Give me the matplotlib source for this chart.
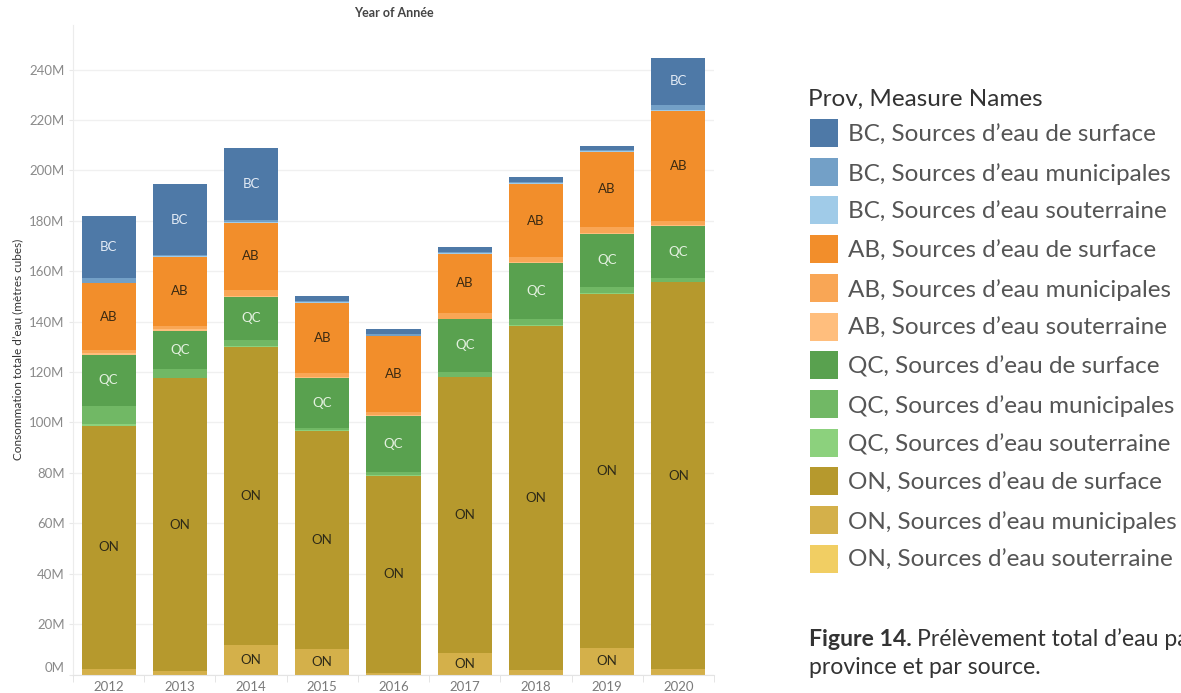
import matplotlib
matplotlib.use("Agg")
import matplotlib.pyplot as plt
import matplotlib.transforms as mtransforms
from matplotlib.patches import Rectangle
import numpy as np

# values, millions of m3
years = ["2012", "2013", "2014", "2015", "2016", "2017", "2018", "2019", "2020"]

bc_surface = [24.7, 28.1, 28.5, 1.9, 1.9, 1.8, 1.8, 1.6, 18.6]
bc_muni = [1.7, 0.4, 0.8, 0.5, 0.6, 0.5, 0.5, 0.4, 2.0]
bc_sout = [0.3, 0.2, 0.3, 0.3, 0.2, 0.2, 0.3, 0.2, 0.4]
ab_surface = [26.4, 27.5, 26.6, 28.0, 30.2, 23.4, 29.1, 30.1, 43.7]
ab_muni = [1.1, 1.1, 2.3, 1.3, 1.2, 2.4, 1.8, 2.2, 1.6]
ab_sout = [0.9, 0.8, 0.4, 0.4, 0.3, 0.3, 0.3, 0.3, 0.4]
qc_surface = [20.3, 15.2, 17.2, 20.1, 22.2, 20.7, 22.3, 21.1, 20.6]
qc_muni = [7.1, 3.4, 2.2, 0.7, 1.3, 2.1, 2.4, 2.4, 1.5]
qc_sout = [0.8, 0.3, 0.4, 0.3, 0.2, 0.2, 0.4, 0.3, 0.3]
on_surface = [96.4, 116.1, 118.4, 86.6, 78.2, 109.4, 136.5, 140.6, 153.4]
on_muni = [2.2, 1.4, 11.7, 10.1, 0.7, 8.5, 1.8, 10.5, 2.2]
on_sout = [0.0, 0.0, 0.0, 0.0, 0.0, 0.0, 0.0, 0.0, 0.0]

legend_labels = [
    "BC, Sources d\u2019eau de surface", "BC, Sources d\u2019eau municipales", "BC, Sources d\u2019eau souterraine",
    "AB, Sources d\u2019eau de surface", "AB, Sources d\u2019eau municipales", "AB, Sources d\u2019eau souterraine",
    "QC, Sources d\u2019eau de surface", "QC, Sources d\u2019eau municipales", "QC, Sources d\u2019eau souterraine",
    "ON, Sources d\u2019eau de surface", "ON, Sources d\u2019eau municipales", "ON, Sources d\u2019eau souterraine",
]
colors = ["#4e79a7", "#73a0c7", "#a0cbe8",
          "#f28e2b", "#f9a655", "#ffbe7d",
          "#59a14f", "#71b865", "#8cd17d",
          "#b6992d", "#d4b04a", "#f1ce63"]
series = [bc_surface, bc_muni, bc_sout, ab_surface, ab_muni, ab_sout,
          qc_surface, qc_muni, qc_sout, on_surface, on_muni, on_sout]
prov = ["BC"] * 3 + ["AB"] * 3 + ["QC"] * 3 + ["ON"] * 3
label_col = {"BC": "#e3ebf5", "AB": "#3b2a12", "QC": "#e4f1e0", "ON": "#2e2a18"}

plt.rcParams["font.family"] = ["Lato", "DejaVu Sans"]

fig = plt.figure(figsize=(11.81, 6.93), dpi=100)
ax = fig.add_axes([73 / 1181, 1 - 674.5 / 693, 641 / 1181, 649.5 / 693])

x = np.arange(len(years))
bottom = np.zeros(len(years))
# stack from the bottom: ON souterraine first, BC surface last
for i in reversed(range(len(series))):
    vals = np.array(series[i])
    ax.bar(x, vals, 0.76, bottom=bottom, color=colors[i], linewidth=0, zorder=2)
    for j in range(len(years)):
        if vals[j] >= 8:
            ax.text(x[j], bottom[j] + vals[j] / 2, prov[i], ha="center", va="center",
                    fontsize=9.5, color=label_col[prov[i]], zorder=3)
    bottom += vals

ax.set_xlim(-0.5, len(years) - 0.5)
ax.set_ylim(0, 257.7)
ax.set_yticks(np.arange(0, 241, 20))
ax.set_yticklabels(["%dM" % v for v in range(0, 241, 20)])
ax.set_xticks(x)
ax.set_xticklabels(years)
ax.set_xticks(np.arange(-0.5, len(years), 1), minor=True)
ax.tick_params(axis="y", length=3, color="#e8e8e8", labelcolor="#8a8a8a", labelsize=9.5, pad=3)
ax.tick_params(axis="x", which="major", length=0, labelcolor="#7a7a7a", labelsize=9.5, pad=4.5)
ax.tick_params(axis="x", which="minor", length=5, color="#e0e0e0")
ax.grid(axis="y", color="#f0f0f0", linewidth=1, zorder=0)
ax.set_axisbelow(True)
for s in ["top", "right"]:
    ax.spines[s].set_visible(False)
ax.spines["left"].set_color("#ececec")
ax.spines["bottom"].set_color("#e4e4e4")

# Tableau lifts the 0M label off the baseline
zero_lbl = ax.get_yticklabels()[0]
zero_lbl.set_transform(zero_lbl.get_transform() + mtransforms.ScaledTranslation(0, 8 / 100, fig.dpi_scale_trans))

ax.set_ylabel("Consommation totale d\u2019eau (mètres cubes)", fontsize=8.5, color="#333333", labelpad=4)
ax.set_title("Year of Année", fontsize=9, color="#444444", fontweight="bold", pad=6)

# legend drawn by hand to match the Tableau layout
fig.text(808 / 1181, 1 - 99 / 693, "Prov, Measure Names", fontsize=17.5, color="#333333", va="center")
for k in range(len(legend_labels)):
    yc = 133 + k * 38.7
    fig.add_artist(Rectangle((810 / 1181, 1 - (yc + 14) / 693), 28 / 1181, 28 / 693,
                             transform=fig.transFigure, color=colors[k], linewidth=0))
    fig.text(848 / 1181, 1 - (yc + 2) / 693, legend_labels[k], fontsize=17.5, color="#555555", va="center")

t1 = fig.text(809 / 1181, 1 - 639 / 693, "Figure 14.", fontsize=16.6, fontweight="bold", color="#333333", va="center")
fig.canvas.draw()
bb = t1.get_window_extent()
fig.text((bb.x1 + 5) / 1181, 1 - 639 / 693, "Prélèvement total d\u2019eau par", fontsize=16.6, color="#333333", va="center")
fig.text(809 / 1181, 1 - 668 / 693, "province et par source.", fontsize=16.6, color="#333333", va="center")

fig.savefig("out.png", dpi=100)
